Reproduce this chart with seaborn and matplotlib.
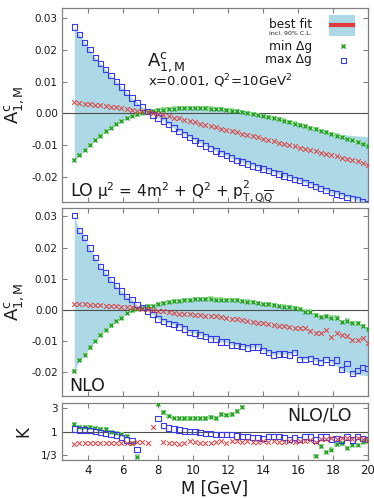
import numpy as np
import pandas as pd
import seaborn as sns
import matplotlib
matplotlib.use("Agg")
import matplotlib.pyplot as plt
from matplotlib.patches import Rectangle
from matplotlib.lines import Line2D
from matplotlib.ticker import FormatStrFormatter, NullLocator, FixedLocator

nan = np.nan

# ---------------- data ----------------
M = [3.2, 3.5, 3.8, 4.1, 4.4, 4.7, 5.0, 5.3, 5.6, 5.9, 6.2, 6.5, 6.8, 7.1, 7.4,
     7.7, 8.0, 8.3, 8.6, 8.9, 9.2, 9.5, 9.8, 10.1, 10.4, 10.7, 11.0, 11.3, 11.6,
     11.9, 12.2, 12.5, 12.8, 13.1, 13.4, 13.7, 14.0, 14.3, 14.6, 14.9, 15.2, 15.5,
     15.8, 16.1, 16.4, 16.7, 17.0, 17.3, 17.6, 17.9, 18.2, 18.5, 18.8, 19.1, 19.4,
     19.7, 20.0]

# LO panel
lo_min = [-0.0147, -0.0131, -0.0115, -0.0099, -0.0084, -0.0070, -0.0057, -0.0045, -0.0034, -0.0024,
          -0.0015, -0.0008, -0.0003, 0.0001, 0.0004, 0.0007, 0.0010, 0.0012, 0.0014, 0.0015,
          0.0016, 0.0017, 0.0017, 0.0017, 0.0017, 0.0016, 0.0015, 0.0014, 0.0013, 0.0011,
          0.0009, 0.0007, 0.0004, 0.0001, -0.0002, -0.0005, -0.0008, -0.0012, -0.0015, -0.0019,
          -0.0023, -0.0027, -0.0032, -0.0036, -0.0041, -0.0046, -0.0050, -0.0055, -0.0060, -0.0065,
          -0.0070, -0.0075, -0.0080, -0.0085, -0.0090, -0.0097, -0.0104]
lo_max = [0.0273, 0.0249, 0.0224, 0.0202, 0.0177, 0.0158, 0.0138, 0.0119, 0.0101, 0.0083,
          0.0066, 0.0049, 0.0035, 0.0020, 0.0006, -0.0005, -0.0014, -0.0024, -0.0035, -0.0046,
          -0.0057, -0.0066, -0.0076, -0.0085, -0.0094, -0.0103, -0.0111, -0.0119, -0.0127, -0.0134,
          -0.0141, -0.0148, -0.0154, -0.0160, -0.0166, -0.0171, -0.0176, -0.0181, -0.0186, -0.0192,
          -0.0198, -0.0203, -0.0208, -0.0213, -0.0219, -0.0225, -0.0232, -0.0238, -0.0244, -0.0250,
          -0.0255, -0.0260, -0.0265, -0.0270, -0.0274, -0.0280, -0.0286]
lo_best = [0.0035, 0.0033, 0.0031, 0.0029, 0.0027, 0.0025, 0.0023, 0.0021, 0.0019, 0.0016,
           0.0014, 0.0011, 0.0008, 0.0006, 0.0003, 0.0000, -0.0003, -0.0006, -0.0009, -0.0013,
           -0.0016, -0.0020, -0.0024, -0.0028, -0.0032, -0.0036, -0.0040, -0.0044, -0.0048, -0.0052,
           -0.0056, -0.0060, -0.0064, -0.0068, -0.0072, -0.0076, -0.0080, -0.0084, -0.0088, -0.0092,
           -0.0096, -0.0100, -0.0104, -0.0108, -0.0112, -0.0116, -0.0120, -0.0124, -0.0128, -0.0132,
           -0.0136, -0.0140, -0.0144, -0.0148, -0.0152, -0.0157, -0.0162]
# upper edge of the LO uncertainty band where it lies above min Δg (last 9 points)
lo_band_top_tail = [-0.0062, -0.0064, -0.0066, -0.0067, -0.0068, -0.0070, -0.0071, -0.0072, -0.0074]

# NLO panel
nlo_min = [-0.0197, -0.0162, -0.0144, -0.0121, -0.0101, -0.0080, -0.0065, -0.0050, -0.0036, -0.0025,
           -0.0011, -0.0002, 0.0002, 0.0005, 0.0011, 0.0013, 0.0018, 0.0021, 0.0025, 0.0027,
           0.0029, 0.0031, 0.0032, 0.0034, 0.0034, 0.0034, 0.0036, 0.0033, 0.0033, 0.0032,
           0.0031, 0.0030, 0.0028, 0.0026, 0.0025, 0.0021, 0.0018, 0.0017, 0.0015, 0.0012,
           0.0010, 0.0008, 0.0005, 0.0002, -0.0006, -0.0006, -0.0016, -0.0023, -0.0020, -0.0025,
           -0.0025, -0.0039, -0.0035, -0.0043, -0.0044, -0.0052, -0.0062]
nlo_max = [0.0303, 0.0254, 0.0233, 0.0198, 0.0168, 0.0139, 0.0119, 0.0098, 0.0078, 0.0060,
           0.0043, 0.0034, 0.0016, 0.0008, -0.0005, -0.0016, -0.0030, -0.0038, -0.0044, -0.0048,
           -0.0055, -0.0062, -0.0072, -0.0075, -0.0081, -0.0086, -0.0094, -0.0094, -0.0104, -0.0104,
           -0.0113, -0.0115, -0.0118, -0.0123, -0.0120, -0.0120, -0.0131, -0.0137, -0.0145, -0.0142,
           -0.0142, -0.0145, -0.0137, -0.0159, -0.0159, -0.0156, -0.0164, -0.0169, -0.0159, -0.0169,
           -0.0161, -0.0191, -0.0172, -0.0204, -0.0196, -0.0185, -0.0188]
nlo_best = [0.0019, 0.0019, 0.0018, 0.0016, 0.0015, 0.0015, 0.0013, 0.0012, 0.0011, 0.0010,
            0.0009, 0.0008, 0.0006, 0.0004, 0.0002, -0.0001, -0.0003, -0.0005, -0.0006, -0.0010,
            -0.0012, -0.0014, -0.0014, -0.0016, -0.0017, -0.0019, -0.0020, -0.0021, -0.0024, -0.0028,
            -0.0030, -0.0030, -0.0034, -0.0035, -0.0038, -0.0041, -0.0042, -0.0045, -0.0048, -0.0051,
            -0.0052, -0.0055, -0.0057, -0.0059, -0.0060, -0.0068, -0.0073, -0.0073, -0.0065, -0.0089,
            -0.0074, -0.0081, -0.0084, -0.0098, -0.0098, -0.0091, -0.0108]
# lower edge of the NLO band where it lies below max Δg (last 7 points)
nlo_band_bot_tail = [-0.0180, -0.0195, -0.0200, -0.0207, -0.0208, -0.0210, -0.0212]

# K = NLO/LO
k_min = [1.41, 1.26, 1.26, 1.22, 1.19, 1.12, 1.11, 1.00, 0.95, 0.89,
         0.82, 0.58, 0.31, nan, nan, nan, 3.65, 2.47, 2.11, 1.92,
         1.87, 1.87, 1.87, 1.87, 1.87, 1.87, 2.00, 1.87, 2.25, 2.20,
         2.25, 2.63, 3.20, nan, nan, nan, nan, nan, nan, nan,
         nan, nan, nan, nan, nan, nan, 0.32, 0.50, 0.39, 0.43,
         0.55, 0.58, 0.47, 0.53, 0.53, 0.63, 0.66]
k_max = [1.13, 1.08, 1.08, 1.05, 1.00, 0.95, 0.93, 0.90, 0.86, 0.77,
         0.68, 0.66, 0.43, nan, nan, nan, 1.87, 1.32, 1.20, 1.13,
         1.08, 1.03, 1.00, 1.00, 0.95, 0.93, 0.93, 0.89, 0.87, 0.87,
         0.87, 0.82, 0.81, 0.81, 0.76, 0.76, 0.73, 0.81, 0.81, 0.81,
         0.76, 0.70, 0.76, 0.70, 0.81, 0.78, 0.68, 0.78, 0.78, 0.70,
         0.73, 0.68, 0.78, 0.68, 0.81, 0.73, 0.70]
k_best = [0.555, 0.60, 0.60, 0.58, 0.60, 0.58, 0.60, 0.58, 0.60, 0.58,
          0.60, 0.60, 0.63, 0.63, 0.60, 1.23, nan, 0.63, 0.60, 0.60,
          0.555, 0.60, 0.66, 0.63, 0.60, 0.60, 0.60, 0.63, 0.66, 0.60,
          0.66, 0.66, 0.63, 0.66, 0.63, 0.63, 0.66, 0.63, 0.66, 0.63,
          0.63, 0.66, 0.63, 0.66, 0.66, 0.68, 0.63, 0.70, 0.70, 0.73,
          0.70, 0.73, 0.73, 0.70, 0.73, 0.70, 0.68]

k_ticks = [1/3, 1, 3]
k_ticklabels = ["1/3", "1", "3"]
x_ticks = [4, 6, 8, 10, 12, 14, 16, 18, 20]
a_ticks = [-0.02, -0.01, 0.0, 0.01, 0.02, 0.03]

# ---------------- style ----------------
sns.set_style("ticks")
plt.rcParams['font.family'] = ['DejaVu Sans']
plt.rcParams['mathtext.fontset'] = 'dejavusans'
plt.rcParams['axes.unicode_minus'] = False

BAND = '#add8e6'
RED = '#e03c3c'
BLUE = '#3a3ae8'
GREEN = '#1e9a1e'
GREEN_L = '#9be39b'
FRAME = '#808080'
TXT = '#1a1a1a'

fig = plt.figure(figsize=(3.74, 4.98), dpi=100)
L, W = 62 / 374, 306 / 374


def rect(top_px, bot_px):
    return [L, 1 - bot_px / 498, W, (bot_px - top_px) / 498]


ax1 = fig.add_axes(rect(8, 202))
ax2 = fig.add_axes(rect(208, 396))
ax3 = fig.add_axes(rect(403, 460))

lo_band_hi = np.maximum(np.array(lo_min), np.array(lo_max))
lo_band_hi[-len(lo_band_top_tail):] = np.maximum(lo_band_hi[-len(lo_band_top_tail):], lo_band_top_tail)
lo_band_lo = np.minimum(np.array(lo_min), np.array(lo_max))
nlo_band_hi = np.maximum(np.array(nlo_min), np.array(nlo_max))
nlo_band_lo = np.minimum(np.array(nlo_min), np.array(nlo_max))
nlo_band_lo[-len(nlo_band_bot_tail):] = np.minimum(nlo_band_lo[-len(nlo_band_bot_tail):], nlo_band_bot_tail)


def points(ax, mn, mx, best):
    sns.scatterplot(x=M, y=mn, marker='s', s=10, color=GREEN_L, edgecolor='none', ax=ax, zorder=3)
    sns.scatterplot(x=M, y=mn, marker='x', s=8, color=GREEN, linewidth=0.9, ax=ax, zorder=4)
    sns.scatterplot(x=M, y=mx, marker='s', s=15, color=BLUE, facecolors='none', edgecolor=BLUE,
                    linewidth=0.8, ax=ax, zorder=4)
    sns.scatterplot(x=M, y=best, marker='x', s=12, color=RED, linewidth=0.7, ax=ax, zorder=4)


for ax, mn, mx, best, blo, bhi in [(ax1, lo_min, lo_max, lo_best, lo_band_lo, lo_band_hi),
                                    (ax2, nlo_min, nlo_max, nlo_best, nlo_band_lo, nlo_band_hi)]:
    ax.fill_between(M, blo, bhi, color=BAND, lw=0, zorder=1)
    ax.axhline(0, color='#505050', lw=0.8, zorder=2)
    points(ax, mn, mx, best)
    ax.set_yticks(a_ticks)
    ax.yaxis.set_major_formatter(FormatStrFormatter('%.2f'))
    ax.set_ylabel(r"$\mathrm{A}^{\mathrm{c}}_{\mathrm{1,M}}$", fontsize=13, color=TXT)
    ax.yaxis.set_label_coords(-0.118, 0.5)

ax1.set_ylim(-0.0280, 0.0333)
ax2.set_ylim(-0.0277, 0.0327)

# K panel
ax3.axhline(1, color='#505050', lw=0.8, zorder=2)
points(ax3, k_min, k_max, k_best)
ax3.set_yscale('log')
ax3.set_ylim(0.265, 3.85)
ax3.yaxis.set_major_locator(FixedLocator(k_ticks))
ax3.yaxis.set_minor_locator(NullLocator())
ax3.set_yticklabels(k_ticklabels)
ax3.set_ylabel("K", fontsize=12, color=TXT)
ax3.yaxis.set_label_coords(-0.098, 0.5)
ax3.set_xlabel("M [GeV]", fontsize=12, color=TXT, labelpad=2)

for ax in (ax1, ax2, ax3):
    ax.set_xlim(2.5, 20)
    ax.set_xticks(x_ticks)
    ax.tick_params(direction='in', length=3.5, width=0.8, color=FRAME, top=True, right=True,
                   labelsize=7.5, labelcolor=TXT, pad=3)
    for s in ax.spines.values():
        s.set_color(FRAME)
        s.set_linewidth(0.9)
    if ax is not ax3:
        ax.tick_params(labelbottom=False)
        ax.set_xlabel("")
ax3.tick_params(axis='x', labelsize=8.5)

# ---------------- annotations ----------------
t = ax1.transAxes
ax1.text(0.278, 0.70, r"$\mathrm{A}^{\mathrm{c}}_{\mathrm{1,M}}$", transform=t, fontsize=13,
         color=TXT, va='baseline', ha='left')
ax1.text(0.281, 0.60, r"x=0.001, Q$^2$=10GeV$^2$", transform=t, fontsize=9.5, color=TXT,
         va='baseline', ha='left')
ax1.text(0.027, 0.03, "LO", transform=t, fontsize=12.5, color=TXT, va='baseline', ha='left')
ax1.text(0.114, 0.03, r"μ$^2$ = 4m$^2$ + Q$^2$ + p$_{\mathrm{T,Q}\overline{\mathrm{Q}}}^{2}$",
         transform=t, fontsize=11, color=TXT, va='baseline', ha='left')

# legend (drawn manually)
ax1.add_patch(Rectangle((0.873, 0.856), 0.085, 0.108, transform=t, color=BAND, lw=0, zorder=5))
ax1.add_line(Line2D([0.873, 0.958], [0.912, 0.912], transform=t, color=RED, lw=3.0,
                    solid_capstyle='butt', zorder=6))
ax1.text(0.817, 0.914, "best fit", transform=t, fontsize=8.8, color=TXT, ha='right', va='center')
ax1.text(0.817, 0.866, "incl. 90% C.L.", transform=t, fontsize=4.5, color=TXT, ha='right', va='center')
ax1.text(0.817, 0.803, "min Δg", transform=t, fontsize=8.8, color=TXT, ha='right', va='center')
ax1.text(0.817, 0.734, "max Δg", transform=t, fontsize=8.8, color=TXT, ha='right', va='center')
ax1.add_line(Line2D([0.918], [0.803], transform=t, marker='s', ms=3.2, color=GREEN_L, mec='none', lw=0))
ax1.add_line(Line2D([0.918], [0.803], transform=t, marker='x', ms=2.6, color=GREEN, mew=0.9, lw=0))
ax1.add_line(Line2D([0.918], [0.734], transform=t, marker='s', ms=3.6, mfc='none', mec=BLUE, mew=0.8, lw=0))

ax2.text(0.024, 0.028, "NLO", transform=ax2.transAxes, fontsize=12.5, color=TXT, va='baseline', ha='left')
ax3.text(0.948, 0.69, "NLO/LO", transform=ax3.transAxes, fontsize=12.5, color=TXT, va='baseline', ha='right')

fig.savefig("out.png", dpi=100)
